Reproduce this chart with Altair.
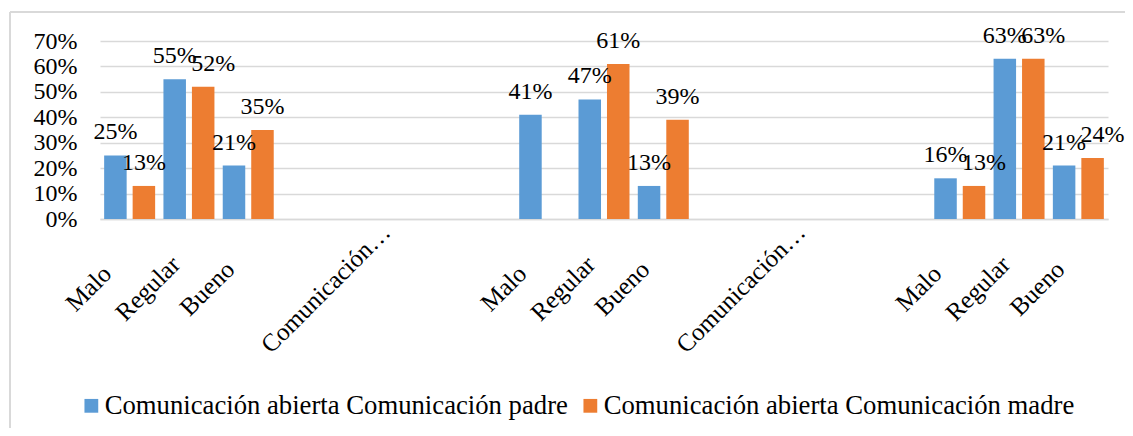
import json
import altair as alt
import pandas as pd

categories = ["Malo", "Regular", "Bueno", "", "Comunicación…", "", "",
              "Malo", "Regular", "Bueno", "", "Comunicación…", "", "",
              "Malo", "Regular", "Bueno"]
padre = [0.25, 0.55, 0.21, None, None, None, None,
         0.41, 0.47, 0.13, None, None, None, None,
         0.16, 0.63, 0.21]
madre = [0.13, 0.52, 0.35, None, None, None, None,
         None, 0.61, 0.39, None, None, None, None,
         0.13, 0.63, 0.24]
series = ["Comunicación abierta Comunicación padre",
          "Comunicación abierta Comunicación madre"]
colors = ["#5B9BD5", "#ED7D31"]
y_ticks = [0, 0.1, 0.2, 0.3, 0.4, 0.5, 0.6, 0.7]

FONT = "Liberation Serif"

rows = []
for i in range(len(categories)):
    p, m = padre[i], madre[i]
    crowded = p is not None and m is not None and abs(p - m) <= 0.05
    if p is not None:
        rows.append({"pos": i, "series": series[0], "value": p,
                     "label": f"{round(p * 100)}%", "shift": False})
    if m is not None:
        rows.append({"pos": i, "series": series[1], "value": m,
                     "label": f"{round(m * 100)}%", "shift": crowded})
df = pd.DataFrame(rows)

label_expr = json.dumps(categories, ensure_ascii=False) + "[datum.value]"

x_enc = alt.X(
    "pos:O",
    scale=alt.Scale(domain=list(range(len(categories))), paddingInner=0.14, paddingOuter=0.07),
    axis=alt.Axis(
        title=None, labelExpr=label_expr, labelAngle=315, labelAlign="center",
        labelBaseline="middle", labelPadding=69, labelOffset=-41, labelOverlap=False,
        labelLimit=0, labelFont=FONT, labelFontSize=25, labelColor="#000000",
        ticks=False, domainColor="#d9d9d9", domainWidth=1.5,
    ),
)
y_enc = alt.Y(
    "value:Q",
    scale=alt.Scale(domain=[0, 0.7], nice=False),
    axis=alt.Axis(
        title=None, format=".0%", values=y_ticks, tickCount=8, domain=False, ticks=False,
        labelOverlap=False, labelPadding=23, labelFont=FONT, labelFontSize=24,
        labelColor="#000000", gridColor="#d9d9d9", gridWidth=1.5,
    ),
)
xoff = alt.XOffset("series:N", scale=alt.Scale(domain=series, paddingInner=0.21, paddingOuter=0))
color_enc = alt.Color(
    "series:N",
    scale=alt.Scale(domain=series, range=colors),
    legend=alt.Legend(
        orient="none", legendX=-22, legendY=351, direction="horizontal",
        title=None, symbolType="square", symbolSize=190, symbolStrokeWidth=0,
        labelFont=FONT, labelFontSize=26.7, labelColor="#000000",
        columnPadding=9, labelOffset=0, labelLimit=0,
    ),
)

base = alt.Chart(df).encode(x=x_enc, y=y_enc, xOffset=xoff)

bars = base.mark_bar().encode(color=color_enc)

text_normal = base.transform_filter("!datum.shift").mark_text(
    baseline="middle", dy=-23, font=FONT, fontSize=24, color="#000000"
).encode(text="label:N")

text_shift = base.transform_filter("datum.shift").mark_text(
    baseline="middle", dy=-23, dx=10, font=FONT, fontSize=24, color="#000000"
).encode(text="label:N")

frame_df = pd.DataFrame({"a": [0]})
frame_left = alt.Chart(frame_df).mark_rule(color="#d9d9d9", strokeWidth=2).encode(
    x=alt.value(-90), y=alt.value(-29), y2=alt.value(400)
)
frame_top = alt.Chart(frame_df).mark_rule(color="#d9d9d9", strokeWidth=2).encode(
    x=alt.value(-90), x2=alt.value(1100), y=alt.value(-29)
)

chart = alt.layer(bars, text_normal, text_shift, frame_left, frame_top).properties(
    width=1008, height=178,
    autosize=alt.AutoSizeParams(type="none"),
    padding={"left": 92, "top": 33, "right": 17, "bottom": 209},
).configure_view(strokeWidth=0)

chart.save("out.html", embed_options={"renderer": "svg", "actions": False})
